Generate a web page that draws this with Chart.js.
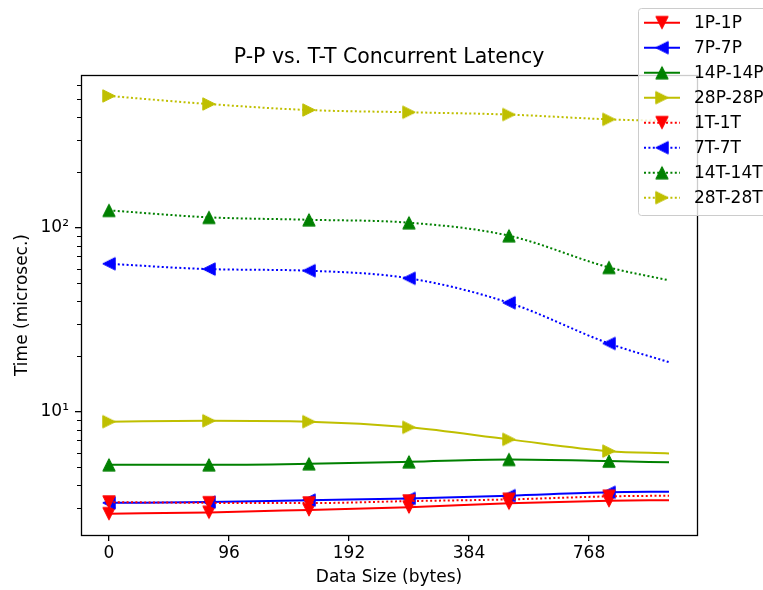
<!DOCTYPE html>
<html>
<head>
<meta charset="utf-8">
<title>P-P vs. T-T Concurrent Latency</title>
<script src="https://cdn.jsdelivr.net/npm/chart.js@4.4.1/dist/chart.umd.min.js"></script>
<style>
  html, body { margin: 0; padding: 0; background: #ffffff; }
  #chart { display: block; }
</style>
</head>
<body>
<canvas id="chart" width="763" height="590"></canvas>
<script>
// ============================================================
// Data
// ============================================================

// x positions: markers at 0..5, the smoothed line runs on to 5.6
const xPos = [0, 1, 2, 3, 4, 5, 5.6];
const xTickPos = [0, 1.2, 2.4, 3.6, 4.8];
const xTickLabels = ['0', '96', '192', '384', '768'];

// latency in microseconds
const lat1P  = [2.79, 2.84, 2.93, 3.03, 3.18, 3.28, 3.31];
const lat7P  = [3.20, 3.23, 3.31, 3.38, 3.50, 3.65, 3.68];
const lat14P = [5.15, 5.15, 5.22, 5.35, 5.51, 5.40, 5.31];
const lat28P = [8.83, 8.93, 8.83, 8.23, 7.08, 6.11, 5.94];
const lat1T  = [3.23, 3.20, 3.19, 3.27, 3.34, 3.47, 3.50];
const lat7T  = [63.7, 59.6, 58.4, 53.1, 39.1, 23.5, 18.6];
const lat14T = [124.3, 113.9, 110.5, 106.5, 90.5, 60.9, 51.8];
const lat28T = [520, 470, 436, 424, 412, 388, 380];

const seriesNames = ['1P-1P', '7P-7P', '14P-14P', '28P-28P', '1T-1T', '7T-7T', '14T-14T', '28T-28T'];
const seriesValues = [lat1P, lat7P, lat14P, lat28P, lat1T, lat7T, lat14T, lat28T];
const seriesColors = ['#ff0000', '#0000ff', '#008000', '#bfbf00', '#ff0000', '#0000ff', '#008000', '#bfbf00'];
const seriesRotation = [180, 270, 0, 90, 180, 270, 0, 90];
const seriesDotted = [false, false, false, false, true, true, true, true];

// log axis ticks (labels only on decades)
const yTickValues = [3, 4, 5, 6, 7, 8, 9, 10, 20, 30, 40, 50, 60, 70, 80, 90, 100, 200, 300, 400, 500, 600];
const yMajor = [10, 100];

const FONT = "'DejaVu Sans', sans-serif";
const DOT_DASH = [2, 2.4];

// matplotlib-style triangle (width == height), pointing up; rotated by Chart.js
function makeMarker(color) {
  const c = document.createElement('canvas');
  c.width = 16;
  c.height = 16;
  const g = c.getContext('2d');
  g.beginPath();
  g.moveTo(8, 1.8);
  g.lineTo(1.8, 14.2);
  g.lineTo(14.2, 14.2);
  g.closePath();
  g.fillStyle = color;
  g.strokeStyle = color;
  g.lineWidth = 1;
  g.fill();
  g.stroke();
  return c;
}

// ============================================================
// Plugins: axes frame + minor ticks + matplotlib-like legend
// ============================================================

const framePlugin = {
  id: 'frame',
  afterDatasetsDraw(chart) {
    const { ctx, chartArea: a } = chart;
    const yScale = chart.scales.y;
    ctx.save();
    ctx.strokeStyle = '#000000';
    ctx.lineWidth = 1.3;
    ctx.strokeRect(Math.round(a.left) + 0.5, Math.round(a.top) + 0.5,
      Math.round(a.right - a.left), Math.round(a.bottom - a.top));

    // minor y ticks, shorter than the major ones
    ctx.lineWidth = 1;
    yTickValues.filter(v => !yMajor.includes(v)).forEach(v => {
      const py = Math.round(yScale.getPixelForValue(v)) + 0.5;
      ctx.beginPath();
      ctx.moveTo(a.left - 4, py);
      ctx.lineTo(a.left, py);
      ctx.stroke();
    });
    ctx.restore();
  }
};

const legendPlugin = {
  id: 'mplLegend',
  afterDraw(chart) {
    const ctx = chart.ctx;
    const left = 638.5, top = 8.5, width = 140, height = 207;
    ctx.save();
    ctx.beginPath();
    ctx.roundRect(left, top, width, height, 3);
    ctx.fillStyle = 'rgba(255,255,255,0.8)';
    ctx.fill();
    ctx.strokeStyle = '#cccccc';
    ctx.lineWidth = 1;
    ctx.stroke();

    ctx.font = '17px ' + FONT;
    ctx.textBaseline = 'middle';
    ctx.textAlign = 'left';

    chart.data.datasets.forEach((ds, i) => {
      const y = 22.7 + i * 25;
      ctx.strokeStyle = ds.borderColor;
      ctx.lineWidth = ds.borderWidth;
      ctx.setLineDash(ds.borderDash || []);
      ctx.beginPath();
      ctx.moveTo(644, y);
      ctx.lineTo(680, y);
      ctx.stroke();
      ctx.setLineDash([]);

      Chart.helpers.drawPoint(ctx, {
        pointStyle: ds.pointStyle,
        rotation: ds.pointRotation,
        radius: 7,
        borderWidth: 0
      }, 662, y);

      ctx.fillStyle = '#000000';
      ctx.fillText(ds.label, 694, y + 1);
    });
    ctx.restore();
  }
};

// ============================================================
// Chart
// ============================================================

const datasets = seriesNames.map((name, i) => ({
  label: name,
  data: seriesValues[i].map((v, j) => ({ x: xPos[j], y: v })),
  borderColor: seriesColors[i],
  backgroundColor: seriesColors[i],
  borderWidth: 2,
  borderDash: seriesDotted[i] ? DOT_DASH : [],
  cubicInterpolationMode: 'monotone',
  pointStyle: makeMarker(seriesColors[i]),
  pointRotation: seriesRotation[i],
  pointRadius: xPos.map((x, j) => (j < xPos.length - 1 ? 7 : 0)),
  pointHoverRadius: 7,
  pointBackgroundColor: seriesColors[i],
  pointBorderColor: seriesColors[i],
  pointBorderWidth: 0,
  fill: false,
  order: seriesNames.length - i
}));

new Chart(document.getElementById('chart'), {
  type: 'line',
  data: { datasets: datasets },
  options: {
    responsive: false,
    animation: false,
    devicePixelRatio: 1,
    layout: { padding: { left: 0, right: 66, top: 0, bottom: 0 } },
    plugins: {
      legend: { display: false },
      tooltip: { enabled: false },
      title: {
        display: true,
        text: 'P-P vs. T-T Concurrent Latency',
        fullSize: false,
        color: '#000000',
        font: { family: FONT, size: 20.5, weight: 'normal' },
        padding: { top: 45.7, bottom: 4.7 }
      }
    },
    scales: {
      x: {
        type: 'linear',
        min: -0.28,
        max: 5.88,
        afterBuildTicks: (scale) => {
          scale.ticks = xTickPos.map(v => ({ value: v }));
        },
        afterFit: (scale) => { scale.height = 55; },
        border: { display: false },
        grid: { drawOnChartArea: false, drawTicks: true, tickLength: 6, color: '#000000', lineWidth: 1.3 },
        ticks: {
          autoSkip: false,
          maxRotation: 0,
          padding: 2,
          color: '#000000',
          font: { family: FONT, size: 17 },
          callback: (value, index) => xTickLabels[index]
        },
        title: {
          display: true,
          text: 'Data Size (bytes)',
          color: '#000000',
          font: { family: FONT, size: 17 },
          padding: { top: 4, bottom: 1.8 }
        }
      },
      y: {
        type: 'logarithmic',
        min: 2.14,
        max: 676,
        afterBuildTicks: (scale) => {
          scale.ticks = yTickValues.map(v => ({ value: v, major: yMajor.includes(v) }));
        },
        afterFit: (scale) => { scale.width = 81; },
        border: { display: false },
        grid: {
          drawOnChartArea: false,
          drawTicks: true,
          tickLength: 6,
          lineWidth: 1.3,
          color: '#000000',
          tickColor: (ctx) => (ctx.tick && yMajor.includes(ctx.tick.value) ? '#000000' : 'rgba(0,0,0,0)')
        },
        ticks: {
          autoSkip: false,
          padding: 6,
          color: '#000000',
          font: { family: FONT, size: 17 },
          callback: (value) => (value === 10 ? '10\u00b9' : value === 100 ? '10\u00b2' : '')
        },
        title: {
          display: true,
          text: 'Time (microsec.)',
          color: '#000000',
          font: { family: FONT, size: 17 },
          padding: { top: 12.3, bottom: 0 }
        }
      }
    }
  },
  plugins: [framePlugin, legendPlugin]
});
</script>
</body>
</html>
